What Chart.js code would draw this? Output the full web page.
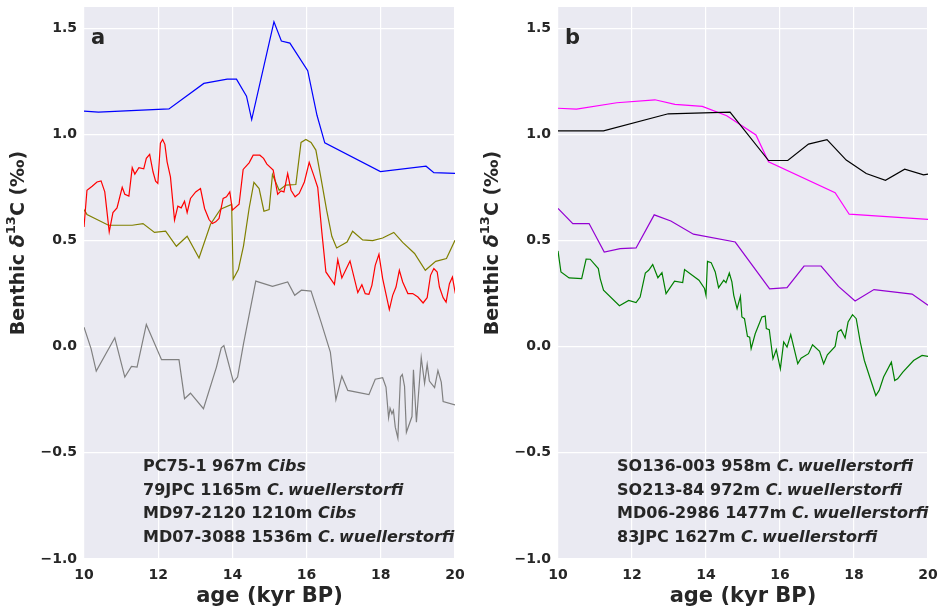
<!DOCTYPE html>
<html>
<head>
<meta charset="utf-8">
<script src="https://cdn.jsdelivr.net/npm/chart.js@4.4.0/dist/chart.umd.min.js"></script>
<style>
  html, body { margin: 0; padding: 0; background: #fff; }
  #wrap { position: relative; width: 943px; height: 611px; }
  canvas { position: absolute; top: 0; }
  #chartA { left: 0; }
  #chartB { left: 474px; }
</style>
</head>
<body>
<div id="wrap">
  <canvas id="chartA" width="470" height="611"></canvas>
  <canvas id="chartB" width="469" height="611"></canvas>
</div>
<script>
// axis ticks
const xTicks = [10, 12, 14, 16, 18, 20];
const yTicks = [-1.0, -0.5, 0.0, 0.5, 1.0, 1.5];

// panel a
const pc75Age  = [10.0, 10.39, 12.29, 13.23, 13.86, 14.11, 14.38, 14.52, 15.12, 15.32, 15.55, 16.03, 16.28, 16.49, 17.99, 19.22, 19.43, 20.0];
const pc75D13C = [1.11, 1.105, 1.12, 1.24, 1.26, 1.26, 1.18, 1.07, 1.53, 1.44, 1.43, 1.30, 1.09, 0.96, 0.825, 0.85, 0.82, 0.816];

const jpc79Age  = [10.0, 10.08, 10.22, 10.35, 10.46, 10.56, 10.62, 10.68, 10.78, 10.89, 11.03, 11.10, 11.21, 11.30, 11.37, 11.48, 11.61, 11.68, 11.77, 11.86,
                   11.93, 11.99, 12.06, 12.12, 12.18, 12.24, 12.33, 12.44, 12.53, 12.62, 12.71, 12.78, 12.87, 13.01, 13.14, 13.25, 13.37, 13.46, 13.55, 13.64,
                   13.75, 13.84, 13.93, 14.00, 14.18, 14.29, 14.45, 14.56, 14.74, 14.84, 14.93, 15.10, 15.22, 15.31, 15.39, 15.49, 15.58, 15.69, 15.80, 15.94,
                   16.07, 16.19, 16.30, 16.41, 16.52, 16.75, 16.84, 16.95, 17.17, 17.38, 17.49, 17.58, 17.68, 17.76, 17.85, 17.95, 18.05, 18.23, 18.32, 18.41,
                   18.50, 18.59, 18.73, 18.86, 19.00, 19.14, 19.25, 19.34, 19.43, 19.52, 19.58, 19.68, 19.76, 19.85, 19.93, 20.01];
const jpc79D13C = [0.564, 0.737, 0.756, 0.776, 0.781, 0.729, 0.635, 0.541, 0.632, 0.654, 0.751, 0.718, 0.709, 0.843, 0.813, 0.843, 0.838, 0.887, 0.906, 0.824,
                   0.780, 0.769, 0.958, 0.976, 0.953, 0.871, 0.800, 0.596, 0.662, 0.654, 0.685, 0.632, 0.698, 0.729, 0.745, 0.651, 0.599, 0.580, 0.588, 0.604,
                   0.698, 0.706, 0.729, 0.643, 0.671, 0.835, 0.866, 0.902, 0.902, 0.887, 0.860, 0.832, 0.718, 0.734, 0.729, 0.816, 0.737, 0.706, 0.722, 0.776,
                   0.868, 0.808, 0.750, 0.541, 0.352, 0.294, 0.410, 0.324, 0.404, 0.255, 0.292, 0.250, 0.247, 0.289, 0.383, 0.435, 0.321, 0.175, 0.242, 0.281,
                   0.360, 0.305, 0.250, 0.250, 0.234, 0.206, 0.231, 0.336, 0.368, 0.352, 0.281, 0.231, 0.210, 0.297, 0.328, 0.250];

const md97Age  = [10.0, 10.08, 10.35, 10.66, 11.30, 11.59, 11.90, 12.20, 12.49, 12.78, 13.10, 13.41, 13.68, 13.98, 14.02, 14.16, 14.30, 14.45, 14.58, 14.72,
                  14.85, 14.99, 15.08, 15.26, 15.44, 15.71, 15.85, 15.98, 16.12, 16.25, 16.39, 16.54, 16.68, 16.81, 17.09, 17.24, 17.51, 17.78, 18.05, 18.35,
                  18.59, 18.91, 19.20, 19.48, 19.77, 20.0];
const md97D13C = [0.646, 0.623, 0.599, 0.572, 0.572, 0.580, 0.538, 0.544, 0.473, 0.520, 0.418, 0.577, 0.648, 0.670, 0.318, 0.363, 0.475, 0.651, 0.774, 0.745,
                  0.638, 0.646, 0.811, 0.737, 0.761, 0.764, 0.962, 0.976, 0.962, 0.926, 0.792, 0.643, 0.520, 0.465, 0.493, 0.544, 0.503, 0.500, 0.512, 0.538,
                  0.491, 0.439, 0.360, 0.402, 0.415, 0.501];

const md07Age  = [10.0, 10.19, 10.33, 10.83, 11.10, 11.28, 11.43, 11.68, 12.09, 12.56, 12.71, 12.87, 13.22, 13.57, 13.70, 13.77, 14.03, 14.14, 14.30, 14.63,
                  15.08, 15.49, 15.68, 15.86, 16.12, 16.39, 16.64, 16.79, 16.95, 17.11, 17.68, 17.85, 18.05, 18.14, 18.21, 18.25, 18.30, 18.34, 18.39, 18.46,
                  18.53, 18.58, 18.64, 18.69, 18.84, 18.88, 18.96, 19.09, 19.18, 19.25, 19.31, 19.45, 19.54, 19.63, 19.68, 20.0];
const md07D13C = [0.092, -0.009, -0.115, 0.042, -0.143, -0.093, -0.096, 0.105, -0.061, -0.061, -0.245, -0.219, -0.292, -0.096, -0.005, 0.005, -0.167, -0.143, 0.014, 0.309,
                  0.284, 0.305, 0.242, 0.266, 0.262, 0.116, -0.025, -0.250, -0.139, -0.206, -0.226, -0.153, -0.146, -0.190, -0.335, -0.290, -0.316, -0.300, -0.379, -0.431,
                  -0.143, -0.131, -0.187, -0.403, -0.329, -0.109, -0.356, -0.052, -0.172, -0.083, -0.162, -0.193, -0.112, -0.167, -0.258, -0.274];

// panel b
const so136Age  = [10.0, 11.23, 12.98, 14.65, 15.69, 16.21, 16.77, 17.27, 17.79, 18.33, 18.85, 19.37, 19.88, 20.0];
const so136D13C = [1.017, 1.017, 1.097, 1.105, 0.877, 0.877, 0.954, 0.975, 0.879, 0.816, 0.784, 0.836, 0.809, 0.813];

const so213Age  = [10.0, 10.50, 11.59, 12.62, 13.16, 13.90, 14.56, 15.35, 15.69, 17.49, 17.87, 20.0];
const so213D13C = [1.123, 1.119, 1.149, 1.163, 1.141, 1.132, 1.088, 0.997, 0.871, 0.725, 0.624, 0.600];

const md06Age  = [10.0, 10.40, 10.84, 11.25, 11.68, 12.11, 12.60, 13.05, 13.66, 14.79, 15.72, 16.19, 16.65, 17.11, 17.58, 18.03, 18.54, 19.57, 20.0];
const md06D13C = [0.651, 0.580, 0.580, 0.446, 0.462, 0.465, 0.621, 0.592, 0.530, 0.493, 0.272, 0.278, 0.380, 0.380, 0.284, 0.215, 0.269, 0.248, 0.195];

const jpc83Age  = [10.0, 10.08, 10.30, 10.64, 10.76, 10.87, 11.09, 11.14, 11.23, 11.66, 11.91, 12.11, 12.22, 12.36, 12.45, 12.56, 12.70, 12.81, 12.92, 13.15,
                   13.37, 13.42, 13.81, 13.96, 14.00, 14.04, 14.14, 14.25, 14.34, 14.48, 14.54, 14.63, 14.70, 14.75, 14.84, 14.93, 14.97, 15.04, 15.12, 15.18,
                   15.22, 15.33, 15.51, 15.60, 15.63, 15.71, 15.81, 15.90, 16.01, 16.10, 16.19, 16.29, 16.48, 16.57, 16.77, 16.88, 17.07, 17.18, 17.28, 17.49,
                   17.56, 17.65, 17.76, 17.84, 17.96, 18.06, 18.17, 18.28, 18.44, 18.59, 18.68, 18.80, 19.01, 19.10, 19.18, 19.32, 19.61, 19.84, 20.0];
const jpc83D13C = [0.451, 0.352, 0.324, 0.321, 0.413, 0.412, 0.368, 0.321, 0.266, 0.193, 0.218, 0.208, 0.234, 0.347, 0.360, 0.387, 0.325, 0.349, 0.250, 0.309,
                   0.302, 0.363, 0.313, 0.274, 0.242, 0.402, 0.396, 0.352, 0.278, 0.313, 0.302, 0.347, 0.305, 0.242, 0.179, 0.237, 0.140, 0.132, 0.049, 0.045,
                   -0.009, 0.061, 0.140, 0.144, 0.085, 0.080, -0.057, -0.014, -0.104, 0.022, -0.002, 0.057, -0.080, -0.054, -0.033, 0.009, -0.022, -0.080, -0.038, 0.001,
                   0.069, 0.080, 0.042, 0.116, 0.151, 0.132, 0.022, -0.065, -0.151, -0.230, -0.206, -0.143, -0.073, -0.159, -0.151, -0.120, -0.065, -0.041, -0.046];

const notesA = [
    ['PC75-1 967m ', 'Cibs'],
    ['79JPC 1165m ', 'C.\u2009wuellerstorfi'],
    ['MD97-2120 1210m ', 'Cibs'],
    ['MD07-3088 1536m ', 'C.\u2009wuellerstorfi']
];
const notesB = [
    ['SO136-003 958m ', 'C.\u2009wuellerstorfi'],
    ['SO213-84 972m ', 'C.\u2009wuellerstorfi'],
    ['MD06-2986 1477m ', 'C.\u2009wuellerstorfi'],
    ['83JPC 1627m ', 'C.\u2009wuellerstorfi']
];

const textColor = '#262626';
const fam = '"DejaVu Sans", sans-serif';

function pts(xs, ys) {
    return xs.map((x, i) => ({ x: x, y: ys[i] }));
}

function serie(xs, ys, color) {
    return {
        data: pts(xs, ys),
        borderColor: color,
        borderWidth: 1.2,
        pointRadius: 0,
        tension: 0,
        fill: false
    };
}

// titulo do eixo y com sobrescrito, desenhado a mao
function drawYTitle(ctx, cx, cy) {
    const parts = [
        ['bold 19px ' + fam, 'Benthic ', 0],
        ['italic bold 19px ' + fam, '\u03b4', 0],
        ['bold 13px ' + fam, '13', -7],
        ['bold 19px ' + fam, 'C (\u2030)', 0]
    ];
    let w = 0;
    parts.forEach(p => { ctx.font = p[0]; w += ctx.measureText(p[1]).width; });
    ctx.save();
    ctx.translate(cx, cy);
    ctx.rotate(-Math.PI / 2);
    ctx.fillStyle = textColor;
    ctx.textBaseline = 'middle';
    let x = -w / 2;
    parts.forEach(p => {
        ctx.font = p[0];
        ctx.fillText(p[1], x, p[2]);
        x += ctx.measureText(p[1]).width;
    });
    ctx.restore();
}

// fundo cinza + textos do painel
const panelPlugin = {
    id: 'panel',
    beforeDraw(chart) {
        const a = chart.chartArea;
        const ctx = chart.ctx;
        ctx.save();
        ctx.fillStyle = '#eaeaf2';
        ctx.fillRect(a.left, a.top, a.right - a.left, a.bottom - a.top);
        ctx.restore();
    },
    afterDatasetsDraw(chart, args, opts) {
        const a = chart.chartArea;
        const ctx = chart.ctx;
        ctx.save();
        ctx.fillStyle = textColor;
        ctx.textBaseline = 'middle';
        ctx.font = 'bold 21px ' + fam;
        ctx.fillText(opts.letter, a.left + 7, a.top + 32);
        opts.notes.forEach((n, i) => {
            const y = a.top + 460 + i * 23.6;
            let x = a.left + 59;
            ctx.font = 'bold 16px ' + fam;
            ctx.fillText(n[0], x, y);
            x += ctx.measureText(n[0]).width;
            ctx.font = 'italic bold 16px ' + fam;
            ctx.fillText(n[1], x, y);
        });
        ctx.restore();
    },
    afterDraw(chart) {
        const a = chart.chartArea;
        drawYTitle(chart.ctx, a.left - 65, 243);
    }
};

function makeChart(id, datasets, letter, notes) {
    const ctx = document.getElementById(id).getContext('2d');
    return new Chart(ctx, {
        type: 'line',
        data: { datasets: datasets },
        plugins: [panelPlugin],
        options: {
            responsive: false,
            animation: false,
            devicePixelRatio: 1,
            layout: { padding: { left: 0, right: 15, top: 7, bottom: 0 } },
            plugins: {
                legend: { display: false },
                tooltip: { enabled: false },
                panel: { letter: letter, notes: notes }
            },
            scales: {
                x: {
                    type: 'linear',
                    min: 10,
                    max: 20,
                    afterBuildTicks: s => { s.ticks = xTicks.map(v => ({ value: v })); },
                    afterFit: s => { s.height = 52; s.paddingLeft = 0; s.paddingRight = 0; },
                    grid: { color: '#ffffff', lineWidth: 1.2, drawTicks: false },
                    border: { display: false },
                    ticks: {
                        color: textColor,
                        font: { family: fam, size: 14, weight: 'bold' },
                        padding: 8,
                        maxRotation: 0,
                        autoSkip: false
                    },
                    title: {
                        display: true,
                        text: 'age (kyr BP)',
                        color: textColor,
                        font: { family: fam, size: 21, weight: 'bold', lineHeight: 1.2 },
                        padding: { top: 0, bottom: 2 }
                    }
                },
                y: {
                    type: 'linear',
                    min: -1.0,
                    max: 1.6,
                    afterBuildTicks: s => { s.ticks = yTicks.map(v => ({ value: v })); },
                    afterFit: s => { s.width = 84; s.paddingTop = 0; s.paddingBottom = 0; },
                    grid: { color: '#ffffff', lineWidth: 1.2, drawTicks: false },
                    border: { display: false },
                    ticks: {
                        color: textColor,
                        font: { family: fam, size: 14, weight: 'bold' },
                        padding: 7,
                        callback: v => v.toFixed(1).replace('-', '\u2212')
                    }
                }
            }
        }
    });
}

makeChart('chartA', [
    serie(pc75Age, pc75D13C, '#0000ff'),
    serie(jpc79Age, jpc79D13C, '#ff0000'),
    serie(md97Age, md97D13C, '#808000'),
    serie(md07Age, md07D13C, '#808080')
], 'a', notesA);

makeChart('chartB', [
    serie(so136Age, so136D13C, '#000000'),
    serie(so213Age, so213D13C, '#ff00ff'),
    serie(md06Age, md06D13C, '#9400d3'),
    serie(jpc83Age, jpc83D13C, '#008000')
], 'b', notesB);
</script>
</body>
</html>
